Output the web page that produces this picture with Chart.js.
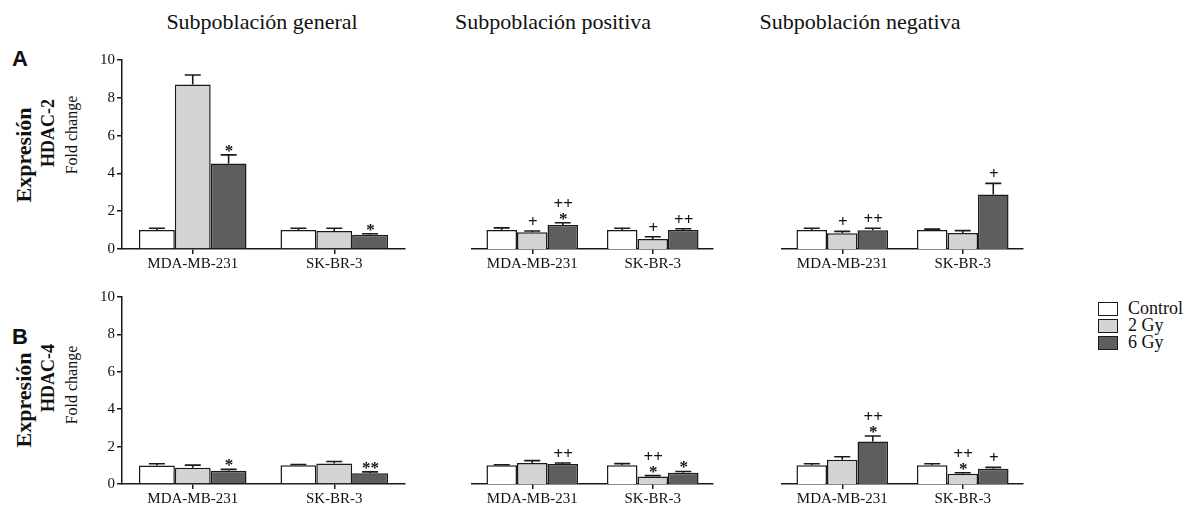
<!DOCTYPE html>
<html>
<head>
<meta charset="utf-8">
<script src="https://cdn.jsdelivr.net/npm/chart.js@4.4.0/dist/chart.umd.min.js"></script>
<style>
  body { margin:0; background:#fff; width:1190px; height:508px; position:relative; overflow:hidden;
         font-family:'Liberation Serif', 'Times New Roman', serif; color:#111; }
  canvas { position:absolute; }
  .col-title { position:absolute; top:9px; font-size:22px; transform:translateX(-50%); white-space:nowrap; }
  .letter { position:absolute; left:12px; font-family:'Liberation Sans', Arial, sans-serif; font-weight:bold; font-size:22px; }
  .vlabel { position:absolute; transform:translate(-50%, -50%) rotate(-90deg); white-space:nowrap; }
  .legend { position:absolute; left:1098px; top:300px; font-size:18px; }
  .legend div { display:flex; align-items:center; height:17px; }
  .legend span.box { width:18px; height:12px; border:1.5px solid #1a1a1a; margin-right:10px; }
</style>
</head>
<body>

<div class="col-title" style="left:262px">Subpoblación general</div>
<div class="col-title" style="left:553px">Subpoblación positiva</div>
<div class="col-title" style="left:860px">Subpoblación negativa</div>

<div class="letter" style="top:46px">A</div>
<div class="letter" style="top:324px">B</div>

<div class="vlabel" style="left:24px; top:155px; font-weight:bold; font-size:22px">Expresión</div>
<div class="vlabel" style="left:48px; top:133px; font-weight:bold; font-size:18px">HDAC-2</div>
<div class="vlabel" style="left:72px; top:135px; font-size:16px">Fold change</div>
<div class="vlabel" style="left:24px; top:400px; font-weight:bold; font-size:22px">Expresión</div>
<div class="vlabel" style="left:48px; top:378px; font-weight:bold; font-size:18px">HDAC-4</div>
<div class="vlabel" style="left:72px; top:385px; font-size:16px">Fold change</div>

<div class="legend" id="legend"></div>

<script>
// categories and series
const categories = ['MDA-MB-231', 'SK-BR-3'];
const seriesNames = ['Control', '2 Gy', '6 Gy'];
const seriesColors = ['#ffffff', '#d4d4d4', '#5e5e5e'];
const yTicks = [0, 2, 4, 6, 8, 10];

// values per series: [MDA-MB-231, SK-BR-3]; rows are Control, 2 Gy, 6 Gy
const hdac2General = [[1.00, 1.00], [8.71, 0.95], [4.53, 0.75]];
const hdac2GeneralErr = [[0.10, 0.10], [0.50, 0.15], [0.45, 0.06]];
const hdac2GeneralMarks = [['', ''], ['', ''], ['*', '*']];

const hdac2Positive = [[1.00, 1.00], [0.88, 0.53], [1.27, 1.00]];
const hdac2PositiveErr = [[0.12, 0.10], [0.07, 0.12], [0.12, 0.07]];
const hdac2PositiveMarks = [['', ''], ['+', '+'], ['++|*', '++']];

const hdac2Negative = [[1.00, 1.00], [0.83, 0.85], [0.99, 2.89]];
const hdac2NegativeErr = [[0.10, 0.05], [0.10, 0.12], [0.11, 0.58]];
const hdac2NegativeMarks = [['', ''], ['+', ''], ['++', '+']];

const hdac4General = [[0.99, 1.00], [0.87, 1.10], [0.71, 0.58]];
const hdac4GeneralErr = [[0.09, 0.04], [0.14, 0.10], [0.07, 0.07]];
const hdac4GeneralMarks = [['', ''], ['', ''], ['*', '**']];

const hdac4Positive = [[1.00, 1.00], [1.12, 0.40], [1.07, 0.60]];
const hdac4PositiveErr = [[0.03, 0.09], [0.13, 0.05], [0.05, 0.07]];
const hdac4PositiveMarks = [['', ''], ['', '++|*'], ['++', '*']];

const hdac4Negative = [[1.00, 1.00], [1.30, 0.55], [2.27, 0.82]];
const hdac4NegativeErr = [[0.08, 0.08], [0.16, 0.05], [0.30, 0.07]];
const hdac4NegativeMarks = [['', ''], ['', '++|*'], ['++|*', '+']];

// legend
document.getElementById('legend').innerHTML = seriesNames.map((n, i) =>
  `<div><span class="box" style="background:${seriesColors[i]}"></span>${n}</div>`).join('');

const SERIF = "'Liberation Serif', 'Times New Roman', serif";
const PAD_TOP = 12, PAD_RIGHT = 10, X_H = 32, Y_W = 44;

// error bars + significance marks
const errorBarPlugin = {
  id: 'errorBars',
  afterDatasetsDraw(chart) {
    const ctx = chart.ctx;
    const y = chart.scales.y;
    const { errs, marks } = chart.options.plugins.errorBars;
    ctx.save();
    chart.data.datasets.forEach((ds, i) => {
      const meta = chart.getDatasetMeta(i);
      meta.data.forEach((bar, j) => {
        const top = y.getPixelForValue(ds.data[j] + errs[i][j]);
        ctx.strokeStyle = '#1a1a1a';
        ctx.lineWidth = 1.6;
        ctx.beginPath();
        ctx.moveTo(bar.x, bar.y);
        ctx.lineTo(bar.x, top);
        ctx.moveTo(bar.x - 8, top);
        ctx.lineTo(bar.x + 8, top);
        ctx.stroke();

        const m = marks[i][j];
        if (!m) return;
        const lines = m.split('|').reverse(); // bottom line first
        ctx.fillStyle = '#111';
        ctx.textAlign = 'center';
        ctx.textBaseline = 'alphabetic';
        ctx.font = `bold 17px ${SERIF}`;
        lines.forEach((txt, k) => {
          const c = top - 9 - k * 10;
          const base = txt.includes('*') ? c + 10 : c + 5;
          ctx.fillText(txt, bar.x + 0.5, base);
        });
      });
    });
    ctx.restore();
  }
};

function panel(area, showY, values, errs, marks) {
  const yW = showY ? Y_W : 0;
  const canvas = document.createElement('canvas');
  const w = yW + (area.right - area.left) + PAD_RIGHT;
  const h = PAD_TOP + (area.bottom - area.top) + X_H;
  canvas.style.left = (area.left - yW) + 'px';
  canvas.style.top = (area.top - PAD_TOP) + 'px';
  canvas.style.width = w + 'px';
  canvas.style.height = h + 'px';
  canvas.width = w;
  canvas.height = h;
  document.body.appendChild(canvas);

  new Chart(canvas, {
    type: 'bar',
    data: {
      labels: categories,
      datasets: seriesNames.map((name, i) => ({
        label: name,
        data: values[i],
        backgroundColor: seriesColors[i],
        borderColor: '#1a1a1a',
        borderWidth: 1.5,
        barPercentage: 1,
        categoryPercentage: 0.76,
      })),
    },
    options: {
      responsive: false,
      animation: false,
      events: [],
      layout: { padding: { top: PAD_TOP, right: PAD_RIGHT, left: 0, bottom: 0 } },
      plugins: {
        legend: { display: false },
        tooltip: { enabled: false },
        errorBars: { errs, marks },
      },
      scales: {
        x: {
          grid: { offset: false, drawOnChartArea: false, drawTicks: true, tickLength: 5, color: '#1a1a1a', lineWidth: 1.5 },
          border: { display: true, color: '#1a1a1a', width: 1.5 },
          ticks: { color: '#111', font: { family: SERIF, size: 15 }, padding: 1, maxRotation: 0 },
          afterFit: s => { s.height = X_H; },
        },
        y: {
          display: showY,
          min: 0,
          max: 10,
          afterBuildTicks: s => { s.ticks = yTicks.map(v => ({ value: v })); },
          grid: { drawOnChartArea: false, drawTicks: true, tickLength: 5, color: '#1a1a1a', lineWidth: 1.5 },
          border: { display: true, color: '#1a1a1a', width: 1.5 },
          ticks: { color: '#111', font: { family: SERIF, size: 15 }, padding: 2 },
          afterFit: s => { s.width = Y_W; },
        },
      },
    },
    plugins: [errorBarPlugin],
  });
}

const cols = [[122, 405], [428, 713], [738, 1023]];
const rows = [[60, 249], [297, 484]];
const area = (c, r) => ({ left: cols[c][0], right: cols[c][1], top: rows[r][0], bottom: rows[r][1] });

panel(area(0, 0), true, hdac2General, hdac2GeneralErr, hdac2GeneralMarks);
panel(area(1, 0), false, hdac2Positive, hdac2PositiveErr, hdac2PositiveMarks);
panel(area(2, 0), false, hdac2Negative, hdac2NegativeErr, hdac2NegativeMarks);
panel(area(0, 1), true, hdac4General, hdac4GeneralErr, hdac4GeneralMarks);
panel(area(1, 1), false, hdac4Positive, hdac4PositiveErr, hdac4PositiveMarks);
panel(area(2, 1), false, hdac4Negative, hdac4NegativeErr, hdac4NegativeMarks);
</script>
</body>
</html>
